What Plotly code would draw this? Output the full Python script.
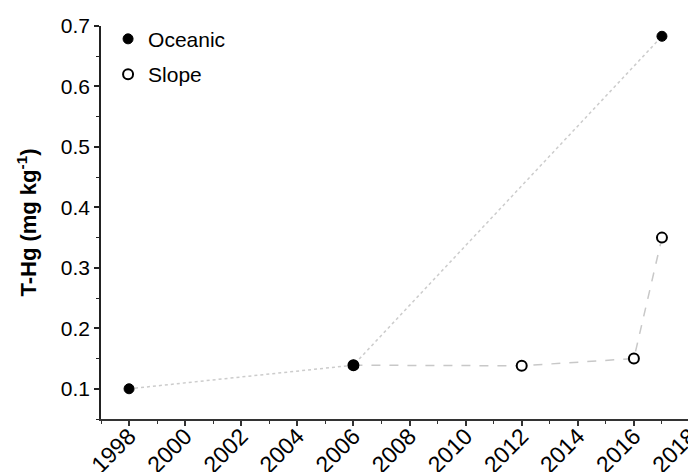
import plotly.graph_objects as go

oceanic_years = [1998, 2006, 2017]
oceanic_vals = [0.100, 0.139, 0.683]
slope_years = [2006, 2012, 2016, 2017]
slope_vals = [0.139, 0.138, 0.150, 0.350]

x_ticks = list(range(1998, 2019, 2))
y_ticks = [0.1, 0.2, 0.3, 0.4, 0.5, 0.6, 0.7]

FS = 21

fig = go.Figure()
fig.add_trace(go.Scatter(x=slope_years, y=slope_vals, mode="lines",
                         line=dict(color="#c8c8c8", width=1.5, dash="dash"),
                         showlegend=False, hoverinfo="skip"))
fig.add_trace(go.Scatter(x=oceanic_years, y=oceanic_vals, mode="lines",
                         line=dict(color="#cccccc", width=1.5, dash="dot"),
                         showlegend=False, hoverinfo="skip"))
fig.add_trace(go.Scatter(x=slope_years, y=slope_vals, mode="markers", name="Slope",
                         legendrank=2, legendgroup="b",
                         marker=dict(symbol="circle", size=10, color="white",
                                     line=dict(color="black", width=2))))
fig.add_trace(go.Scatter(x=oceanic_years, y=oceanic_vals, mode="markers", name="Oceanic",
                         legendrank=1, legendgroup="a",
                         marker=dict(symbol="circle", size=10, color="black",
                                     line=dict(color="black", width=1))))

# the page body has an 8px margin, so the figure is offset by 8px right and down
fig.update_layout(
    width=696, height=472,
    margin=dict(l=93, r=14, t=17, b=61),
    paper_bgcolor="white", plot_bgcolor="white",
    font=dict(family="Liberation Sans, Arial, sans-serif", size=FS, color="black"),
    showlegend=True,
    legend=dict(x=0.012, y=1.016, xanchor="left", yanchor="top",
                traceorder="grouped", tracegroupgap=5,
                bgcolor="rgba(0,0,0,0)", font=dict(size=FS),
                itemsizing="trace"),
    xaxis=dict(range=[1997, 2018], tickvals=x_ticks, ticktext=[str(v) for v in x_ticks],
               tickangle=-45, showgrid=False, zeroline=False, automargin=False,
               showline=True, linecolor="#333", linewidth=1.5,
               ticks="outside", ticklen=5, tickcolor="#333", tickwidth=1.5,
               ticklabelstandoff=-12,
               minor=dict(dtick=1, tick0=1997, ticks="outside", ticklen=3,
                          tickcolor="#333", tickwidth=1),
               tickfont=dict(size=23)),
    yaxis=dict(range=[0.05, 0.7], tickvals=y_ticks,
               ticktext=[f"{v:.1f}" for v in y_ticks],
               showgrid=False, zeroline=False, automargin=False,
               showline=True, linecolor="#222", linewidth=1.5,
               ticks="outside", ticklen=5, tickcolor="#222", tickwidth=1.5,
               minor=dict(dtick=0.05, tick0=0.05, ticks="outside", ticklen=3,
                          tickcolor="#222", tickwidth=1),
               title=dict(text="<b>T-Hg (mg kg<sup>-1</sup>)</b>", font=dict(size=22),
                          standoff=18),
               tickfont=dict(size=FS)),
)

fig.write_html("out.html")
